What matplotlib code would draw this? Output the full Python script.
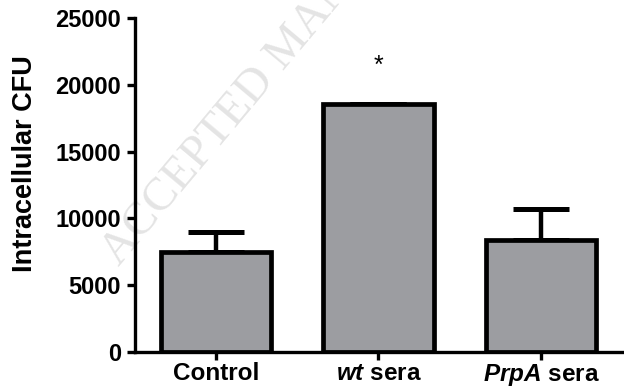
import matplotlib
matplotlib.use("Agg")
import matplotlib.pyplot as plt

categories = ["Control", r"$\mathbfit{wt}$ sera", r"$\mathbfit{PrpA}$ sera"]
means = [7500, 18600, 8400]
err_up = [1500, 0, 2300]
yticks = [0, 5000, 10000, 15000, 20000, 25000]
star_y = 21400

plt.rcParams['font.family'] = ['Liberation Sans', 'DejaVu Sans']
plt.rcParams['font.weight'] = 'bold'
plt.rcParams['mathtext.fontset'] = 'custom'
plt.rcParams['mathtext.bfit'] = 'Liberation Sans:italic:bold'
plt.rcParams['mathtext.rm'] = 'Liberation Sans:bold'

fig = plt.figure(figsize=(6.24, 3.91), dpi=100)
ax = fig.add_axes([0.216, 0.0997, 0.781, 0.854])

# watermark (behind the bars)
ax.text(0.19, 0.318, "ACCEPTED MANUSCRIPT", rotation=50, rotation_mode='anchor',
        fontsize=34, family='Liberation Serif', color='#e4e4e4', ha='left',
        va='baseline', fontweight='normal', zorder=0.5,
        transform=fig.transFigure, clip_on=False)

x = list(range(len(categories)))
ax.bar(x, means, width=0.68, color='#9c9da1', edgecolor='black', linewidth=3.4, zorder=2)
ax.errorbar(x, means, yerr=[[0]*3, err_up], fmt='none', ecolor='black',
            elinewidth=3.2, capsize=20, capthick=3.6, zorder=1)
ax.text(1, star_y, "*", ha='center', va='center', fontsize=18, fontweight='normal')

ax.set_xlim(-0.5, 2.5)
ax.set_ylim(0, 25000)
ax.set_yticks(yticks)
ax.set_yticklabels([str(v) for v in yticks])
ax.set_xticks(x)
ax.set_xticklabels(categories)
ax.set_ylabel("Intracellular CFU", fontsize=19.5, fontweight='bold')
ax.yaxis.set_label_coords(-0.199, 0.563)
ax.tick_params(axis='y', labelsize=17, width=2.4, length=6, direction='out', pad=4)
ax.tick_params(axis='x', labelsize=17.5, width=2.4, length=6, direction='out', pad=1.5)
for s in ['top', 'right']:
    ax.spines[s].set_visible(False)
for s in ['left', 'bottom']:
    ax.spines[s].set_linewidth(2.4)
ax.patch.set_alpha(0)

fig.savefig("out.png", dpi=100)
